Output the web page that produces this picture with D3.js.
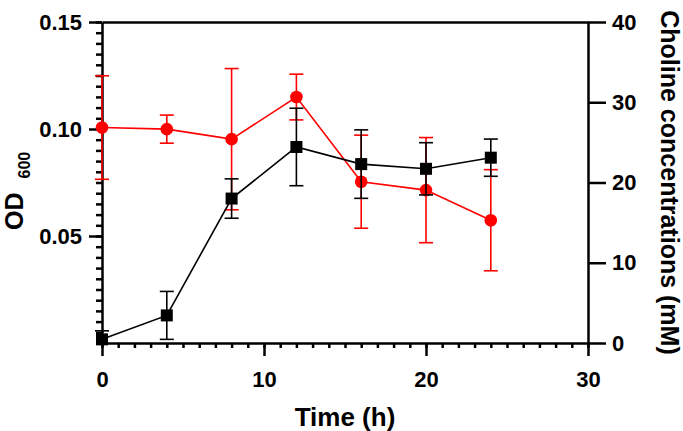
<!DOCTYPE html>
<html>
<head>
<meta charset="utf-8">
<script src="https://cdn.jsdelivr.net/npm/d3@7"></script>
<style>
  html, body { margin: 0; padding: 0; background: #fff; }
  svg { display: block; }
  text { font-family: "Liberation Sans", Arial, sans-serif; font-weight: bold; fill: #000; }
</style>
</head>
<body>
<svg id="chart" width="683" height="431"></svg>
<script>
// ---- data ----
const time = [0, 4, 8, 12, 16, 20, 24];
const od600 = [0.0017, 0.0129, 0.0675, 0.0916, 0.0836, 0.0814, 0.0866];
const od600Err = [0.0040, 0.0112, 0.0092, 0.0181, 0.0160, 0.0122, 0.0087];
const choline = [26.85, 26.65, 25.4, 30.65, 20.1, 19.05, 15.3];
const cholineErr = [6.45, 1.75, 8.8, 2.85, 5.8, 6.55, 6.3];
const xMajorTicks = [0, 10, 20, 30];
const leftMajorTicks = [0.05, 0.10, 0.15];
const rightTicks = [0, 10, 20, 30, 40];

const svg = d3.select("#chart");
const x = d3.scaleLinear().domain([0, 30]).range([102, 588]);
const yL = d3.scaleLinear().domain([0, 0.15]).range([343, 22]);
const yR = d3.scaleLinear().domain([0, 40]).range([343, 22]);

const AX = 2.5;
const TICKFONT = "22px";

// top frame line
svg.append("g").attr("transform", `translate(0,${yL(0.15)})`)
  .call(d3.axisTop(x).tickValues([]).tickSizeOuter(0))
  .call(g => g.select(".domain").attr("stroke-width", AX));

// x axis minor
svg.append("g").attr("transform", `translate(0,${yL(0)})`)
  .call(d3.axisBottom(x).tickValues(d3.range(0, 31, 1)).tickSize(5).tickSizeOuter(0).tickFormat(""))
  .call(g => g.selectAll("line").attr("stroke-width", AX))
  .call(g => g.select(".domain").attr("stroke-width", AX));
// x axis major
svg.append("g").attr("transform", `translate(0,${yL(0)})`)
  .call(d3.axisBottom(x).tickValues(xMajorTicks).tickSize(13).tickSizeOuter(0).tickPadding(15))
  .call(g => g.select(".domain").remove())
  .call(g => g.selectAll("line").attr("stroke-width", AX))
  .call(g => g.selectAll("text").style("font-size", TICKFONT));

// left axis minor
svg.append("g").attr("transform", `translate(${x(0)},0)`)
  .call(d3.axisLeft(yL).tickValues(d3.range(0, 0.1501, 0.005)).tickSize(6).tickSizeOuter(0).tickFormat(""))
  .call(g => g.selectAll("line").attr("stroke-width", AX))
  .call(g => g.select(".domain").attr("stroke-width", AX));
// left axis major
svg.append("g").attr("transform", `translate(${x(0)},0)`)
  .call(d3.axisLeft(yL).tickValues(leftMajorTicks).tickSize(13).tickSizeOuter(0).tickPadding(7).tickFormat(d3.format(".2f")))
  .call(g => g.select(".domain").remove())
  .call(g => g.selectAll("line").attr("stroke-width", AX))
  .call(g => g.selectAll("text").style("font-size", TICKFONT));

// right axis
svg.append("g").attr("transform", `translate(${x(30)},0)`)
  .call(d3.axisRight(yR).tickValues(rightTicks).tickSize(18).tickSizeOuter(0).tickPadding(6))
  .call(g => g.select(".domain").attr("stroke-width", AX))
  .call(g => g.selectAll("line").attr("stroke-width", AX))
  .call(g => g.selectAll("text").style("font-size", TICKFONT));

// axis titles
svg.append("text").attr("x", x(15)).attr("y", 426).attr("text-anchor", "middle")
  .style("font-size", "26px").text("Time (h)");

const ylab = svg.append("text")
  .attr("transform", `translate(23,230) rotate(-90)`)
  .attr("text-anchor", "start").style("font-size", "25px");
ylab.append("tspan").text("OD");
ylab.append("tspan").attr("dx", 14).attr("dy", 7).style("font-size", "16px").text("600");

svg.append("text")
  .attr("transform", `translate(661,${(yR(0) + yR(40)) / 2}) rotate(90)`)
  .attr("text-anchor", "middle").style("font-size", "25px")
  .text("Choline concentrations  (mM)");

// ---- series ----
function drawSeries(vals, errs, yScale, color, shape, lo) {
  const g = svg.append("g");
  const cap = 7;
  vals.forEach((v, i) => {
    const cx = x(time[i]);
    const top = yScale(v + errs[i]);
    const bot = yScale(Math.max(lo, v - errs[i]));
    g.append("line").attr("x1", cx).attr("x2", cx).attr("y1", top).attr("y2", bot)
      .attr("stroke", color).attr("stroke-width", 1.6);
    g.append("line").attr("x1", cx - cap).attr("x2", cx + cap).attr("y1", top).attr("y2", top)
      .attr("stroke", color).attr("stroke-width", 1.6);
    if (v - errs[i] > lo) {
      g.append("line").attr("x1", cx - cap).attr("x2", cx + cap).attr("y1", bot).attr("y2", bot)
        .attr("stroke", color).attr("stroke-width", 1.6);
    }
  });
  g.append("path").datum(vals)
    .attr("d", d3.line().x((d, i) => x(time[i])).y(d => yScale(d)))
    .attr("fill", "none").attr("stroke", color).attr("stroke-width", 1.6);
  vals.forEach((v, i) => {
    const cx = x(time[i]), cy = yScale(v);
    if (shape === "circle") {
      g.append("circle").attr("cx", cx).attr("cy", cy).attr("r", 6.3).attr("fill", color);
    } else {
      g.append("rect").attr("x", cx - 6).attr("y", cy - 6).attr("width", 12).attr("height", 12).attr("fill", color);
    }
  });
}

drawSeries(choline, cholineErr, yR, "#ff0000", "circle", 0);
drawSeries(od600, od600Err, yL, "#000000", "square", 0);
</script>
</body>
</html>
